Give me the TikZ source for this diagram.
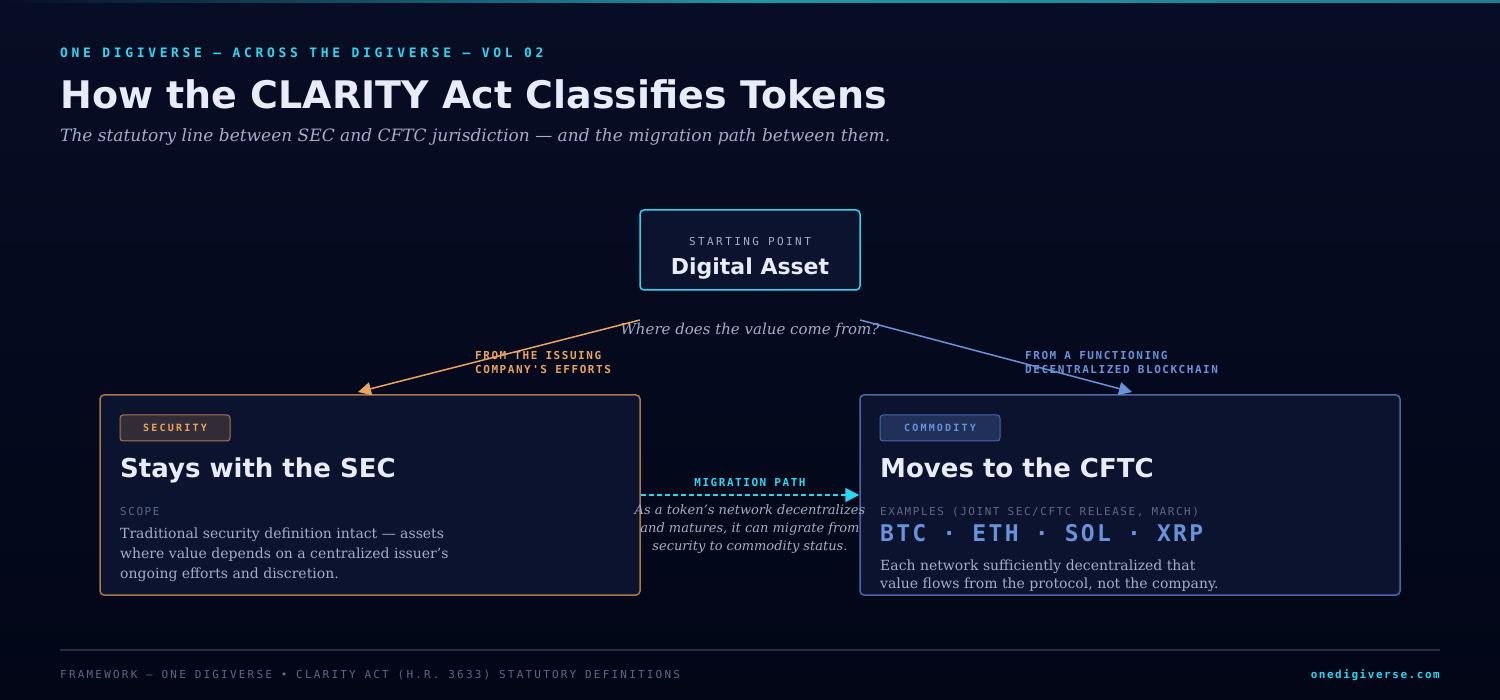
\documentclass[tikz,border=0pt]{standalone}
\usepackage{fontspec}
\setmainfont{DejaVu Serif}
\setsansfont{DejaVu Sans}
\newfontfamily\monoK[LetterSpace=28]{DejaVu Sans Mono}
\newfontfamily\monoA[LetterSpace=22]{DejaVu Sans Mono}
\newfontfamily\monoF[LetterSpace=20]{DejaVu Sans Mono}
\newfontfamily\monoB[LetterSpace=14]{DejaVu Sans Mono}
\newfontfamily\monoC[LetterSpace=10]{DejaVu Sans Mono}
\usetikzlibrary{arrows.meta,calc}
\definecolor{bgA}{HTML}{070D24}
\definecolor{bgB}{HTML}{020617}
\definecolor{card}{HTML}{0B132E}
\definecolor{cyanc}{HTML}{2FD6F2}
\definecolor{titlec}{HTML}{E8ECF8}
\definecolor{greyc}{HTML}{A4AEC8}
\definecolor{dimc}{HTML}{5C6888}
\definecolor{orangec}{HTML}{E9A463}
\definecolor{orangeb}{HTML}{A8784E}
\definecolor{bluec}{HTML}{6A92DA}
\definecolor{blueb}{HTML}{4A67A6}
\tikzset{
  px/.style={x=1pt,y=-1pt},
  card/.style={draw,fill=card,rounded corners=4pt,line width=1.5pt},
  badge/.style={draw,rounded corners=3pt,line width=1pt,minimum height=26pt,inner sep=0pt,font=\monoA\bfseries\fontsize{10}{12}\selectfont},
  lbl/.style={inner sep=0pt,anchor=base west},
  arr/.style={line width=1.5pt,-{Triangle[length=13pt,width=13pt]}},
}
\begin{document}
\begin{tikzpicture}[px]
\useasboundingbox (0,0) rectangle (1500,700);
\fill[top color=bgA,bottom color=bgB] (0,0) rectangle (1500,700);
\shade[left color=bgA,right color=cyanc!60!black,middle color=cyanc!70!black] (0,0) rectangle (1500,3);
% header
\node[lbl,text=cyanc,font=\monoK\bfseries\fontsize{13}{15}\selectfont] (kick) at (60,58) {ONE DIGIVERSE — ACROSS THE DIGIVERSE — VOL 02};
\node[lbl,text=titlec,font=\sffamily\bfseries\fontsize{38}{44}\selectfont] (title) at (60,109) {How the CLARITY Act Classifies Tokens};
\node[lbl,text=greyc,font=\itshape\fontsize{17}{20}\selectfont] (sub) at (60,142) {The statutory line between SEC and CFTC jurisdiction — and the migration path between them.};
% start
\node[card,draw=cyanc,minimum width=220pt,minimum height=80pt] (start) at (750,250) {};
\node[text=greyc,font=\monoA\fontsize{11}{13}\selectfont,inner sep=0pt] (sp) at (750,241) {STARTING POINT};
\node[text=titlec,font=\sffamily\bfseries\fontsize{22}{26}\selectfont,inner sep=0pt] (da) at (750,269) {Digital Asset};
\node[text=greyc,font=\itshape\fontsize{15}{18}\selectfont,inner sep=0pt] (q) at (750,330) {Where does the value come from?};
% cards
\node[card,draw=orangeb,minimum width=540pt,minimum height=200pt] (sec) at (370,495) {};
\node[card,draw=blueb,minimum width=540pt,minimum height=200pt] (cftc) at (1130,495) {};
\coordinate (oA) at (640,320); \coordinate (oB) at (358,392);
\coordinate (bA) at (860,320); \coordinate (bB) at (1132,392);
\draw[arr,orangec] (oA) -- (oB);
\draw[arr,bluec] (bA) -- (bB);
\node[lbl,text=orangec,font=\monoB\bfseries\fontsize{11}{13}\selectfont,align=left,anchor=north west] (ol) at (475,351) {FROM THE ISSUING\\[1.5pt]COMPANY'S EFFORTS};
\node[lbl,text=bluec,font=\monoB\bfseries\fontsize{11}{13}\selectfont,align=left,anchor=north west] (bl) at (1025,351) {FROM A FUNCTIONING\\[1.5pt]DECENTRALIZED BLOCKCHAIN};
% security card
\node[badge,minimum width=110pt,draw=orangeb,fill=orangeb!25!card,text=orangec] (sb) at (175,428) {SECURITY};
\node[lbl,text=titlec,font=\sffamily\bfseries\fontsize{26}{30}\selectfont] (st) at (120,478) {Stays with the SEC};
\node[lbl,text=dimc,font=\monoB\fontsize{11}{13}\selectfont] (sc) at (120,515) {SCOPE};
\node[lbl,text=greyc,font=\fontsize{14}{20}\selectfont,align=left,anchor=north west] (sbody) at (120,528) {Traditional security definition intact — assets\\where value depends on a centralized issuer's\\ongoing efforts and discretion.};
% cftc card
\node[badge,minimum width=120pt,draw=blueb,fill=blueb!35!card,text=bluec] (cb) at (940,428) {COMMODITY};
\node[lbl,text=titlec,font=\sffamily\bfseries\fontsize{26}{30}\selectfont] (ct) at (880,478) {Moves to the CFTC};
\node[lbl,text=dimc,font=\monoB\fontsize{11}{13}\selectfont] (ce) at (880,515) {EXAMPLES (JOINT SEC/CFTC RELEASE, MARCH)};
\node[lbl,text=bluec,font=\monoC\bfseries\fontsize{23}{26}\selectfont] (tk) at (880,541) {BTC · ETH · SOL · XRP};
\node[lbl,text=greyc,font=\fontsize{14}{18}\selectfont,align=left,anchor=north west] (cbody) at (880,560) {Each network sufficiently decentralized that\\value flows from the protocol, not the company.};
% migration
\coordinate (mA) at (sec.east |- 0,495);
\draw[line width=1.5pt,cyanc,dash pattern=on 5pt off 3pt,-{Triangle[length=14pt,width=14pt]}] (mA) -- (cftc.west);
\node[text=cyanc,font=\monoB\bfseries\fontsize{11}{13}\selectfont,inner sep=0pt] (ml) at (750,482) {MIGRATION PATH};
\node[text=greyc,font=\itshape\fontsize{13}{18}\selectfont,align=center,inner sep=0pt,anchor=north] (mt) at (750,504) {As a token's network decentralizes\\and matures, it can migrate from\\security to commodity status.};
% footer
\coordinate (fA) at (60,650); \coordinate (fB) at (1440,650);
\draw[line width=1.5pt,color=dimc!35!bgA] (fA) -- (fB);
\node[lbl,text=dimc,font=\monoF\fontsize{11}{13}\selectfont] (ft) at (60,678) {FRAMEWORK — ONE DIGIVERSE • CLARITY ACT (H.R. 3633) STATUTORY DEFINITIONS};
\node[inner sep=0pt,anchor=base east,text=cyanc,font=\monoB\bfseries\fontsize{11}{13}\selectfont] (fr) at (1440,678) {onedigiverse.com};
\end{tikzpicture}
\end{document}
